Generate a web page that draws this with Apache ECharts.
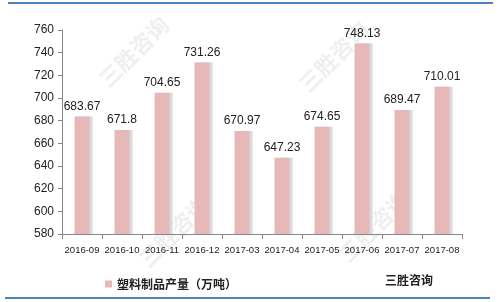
<!DOCTYPE html>
<html><head><meta charset="utf-8">
<script src="https://cdn.jsdelivr.net/npm/echarts@6/dist/echarts.min.js"></script>
<style>html,body{margin:0;padding:0;background:#fff}#c{width:500px;height:302px}</style>
</head><body><div id="c"></div>
<script>
var categories = ['2016-09','2016-10','2016-11','2016-12','2017-03','2017-04','2017-05','2017-06','2017-07','2017-08'];
var values = [683.67, 671.8, 704.65, 731.26, 670.97, 647.23, 674.65, 748.13, 689.47, 710.01];
var seriesName = '塑料制品产量（万吨）';
var yMin = 580, yMax = 760, yStep = 20;

function wm(x, y) {
  return {type: 'text', x: x, y: y, rotation: Math.PI / 4, z: 0,
    style: {text: '三胜咨询', font: 'bold 22px "Noto Sans CJK SC"', fill: 'rgba(190,190,190,0.25)'}};
}

var chart = echarts.init(document.getElementById('c'));
chart.setOption({
  animation: false,
  backgroundColor: '#fff',
  grid: {left: 62, right: 38, top: 30, bottom: 68},
  legend: {
    data: [seriesName], left: 100, top: 273, icon: 'rect', itemWidth: 7, itemHeight: 7, itemGap: 4,
    textStyle: {fontFamily: 'Noto Sans CJK SC', fontSize: 12, fontWeight: 'bold', color: '#222'}
  },
  graphic: [
    {type: 'line', shape: {x1: 8, y1: 3, x2: 493, y2: 3}, style: {stroke: '#4f81bd', lineWidth: 2}},
    {type: 'line', shape: {x1: 5, y1: 298, x2: 490, y2: 298}, style: {stroke: '#4f81bd', lineWidth: 2}},
    {type: 'text', left: 385, top: 274, style: {text: '三胜咨询', font: 'bold 12px "Noto Sans CJK SC"', fill: '#222'}},
    wm(95, 75), wm(295, 80), wm(135, 255), wm(335, 250)
  ],
  xAxis: {
    type: 'category', data: categories,
    axisLine: {lineStyle: {color: '#888'}},
    axisTick: {show: true, length: 5, lineStyle: {color: '#888'}},
    axisLabel: {interval: 0, color: '#222', fontSize: 9.5, fontFamily: 'Liberation Sans', margin: 11}
  },
  yAxis: {
    type: 'value', min: yMin, max: yMax, interval: yStep,
    axisLine: {show: true, lineStyle: {color: '#888'}},
    axisTick: {show: true, length: 4, lineStyle: {color: '#888'}},
    splitLine: {show: false},
    axisLabel: {color: '#222', fontSize: 12, fontFamily: 'Liberation Sans', margin: 8}
  },
  series: [{
    name: seriesName, type: 'bar', data: values, barWidth: 15, z: 2,
    itemStyle: {color: '#e6b8b7', shadowColor: '#d9d9d9', shadowOffsetX: 3, shadowBlur: 0},
    label: {show: true, position: 'top', color: '#222', fontSize: 12, fontFamily: 'Liberation Sans', distance: 4}
  }]
});
</script></body></html>
